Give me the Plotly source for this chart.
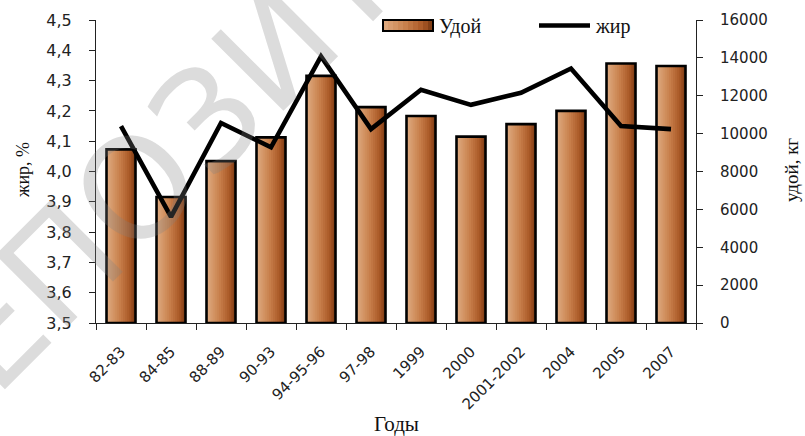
import plotly.graph_objects as go

# Годы наблюдений
years = ["82-83", "84-85", "88-89", "90-93", "94-95-96", "97-98",
         "1999", "2000", "2001-2002", "2004", "2005", "2007"]
# Удой, кг
milk_yield = [9170, 6650, 8550, 9800, 13050, 11400,
              10930, 9840, 10500, 11200, 13700, 13570]
# Жирность молока, %
fat = [4.15, 3.85, 4.16, 4.08, 4.38, 4.14,
       4.27, 4.22, 4.26, 4.34, 4.15, 4.14]

W, H = 805, 436
L, R, T, B = 96, 109, 20, 113

BAR_W = 0.58
N_SLICES = 14
# gradient stops for the bar fill, left edge -> right edge
STOPS = [(0.0, (224, 172, 130)), (0.45, (200, 128, 76)),
         (0.8, (170, 88, 38)), (1.0, (118, 56, 18))]


def grad_color(t):
    for (t0, c0), (t1, c1) in zip(STOPS[:-1], STOPS[1:]):
        if t <= t1:
            f = (t - t0) / (t1 - t0)
            return "rgb(%d,%d,%d)" % tuple(round(a + (b - a) * f) for a, b in zip(c0, c1))
    return "rgb(%d,%d,%d)" % STOPS[-1][1]


fig = go.Figure()

# gradient bars: each slice spans from its left edge to the bar's right edge,
# later slices are drawn on top so no seams appear
step = BAR_W / N_SLICES
for i in range(N_SLICES):
    fig.add_trace(go.Bar(
        x=years, y=milk_yield, yaxis="y",
        offset=-BAR_W / 2 + i * step, width=BAR_W - i * step,
        marker=dict(color=grad_color((i + 0.5) / N_SLICES), line=dict(width=0)),
        showlegend=False, hoverinfo="skip",
    ))

# bar outlines
fig.add_trace(go.Bar(
    x=years, y=milk_yield, yaxis="y", name="Удой",
    offset=-BAR_W / 2, width=BAR_W,
    marker=dict(color="rgba(0,0,0,0)", line=dict(color="black", width=2.6)),
    showlegend=False,
))

# fat content line on the left axis
fig.add_trace(go.Scatter(
    x=years, y=fat, yaxis="y2", name="жир", mode="lines",
    line=dict(color="black", width=4.6),
    showlegend=False,
))

tick_font = dict(family="DejaVu Sans", size=15, color="#222")
serif = "Liberation Serif"

fig.update_layout(
    width=W, height=H,
    margin=dict(l=L, r=R, t=T, b=B),
    paper_bgcolor="white", plot_bgcolor="white",
    barmode="overlay",
    separators=", ",
    showlegend=False,
    xaxis=dict(
        type="category", showgrid=False, showline=True, linecolor="#222", linewidth=1,
        ticks="outside", ticklen=6, tickcolor="#222", tickson="boundaries",
        tickangle=-45, tickfont=tick_font, ticklabelstandoff=13,
        range=[-0.5, len(years) - 0.5],
    ),
    yaxis=dict(
        side="right", range=[0, 16000], dtick=2000, tickformat="d",
        showgrid=False, zeroline=False, showline=True, linecolor="#222", linewidth=1,
        ticks="outside", ticklen=6, tickcolor="#222",
        tickfont=tick_font, ticklabelstandoff=14,
    ),
    yaxis2=dict(
        side="left", overlaying="y", range=[3.5, 4.5], dtick=0.1, tickformat=".1f",
        showgrid=False, zeroline=False, showline=True, linecolor="#222", linewidth=1,
        ticks="outside", ticklen=6, tickcolor="#222",
        tickfont=dict(family="DejaVu Sans", size=16, color="#222"), ticklabelstandoff=14,
    ),
)


# helpers converting pixel positions to paper coordinates
def px(xp):
    return (xp - L) / (W - L - R)


def py(yp):
    return (H - B - yp) / (H - T - B)


# axis titles
fig.add_annotation(text="Годы", xref="paper", yref="paper", x=px(396), y=py(424),
                   xanchor="center", yanchor="middle", showarrow=False,
                   font=dict(family=serif, size=21, color="#111"))
fig.add_annotation(text="жир, %", xref="paper", yref="paper", x=px(23), y=py(170),
                   xanchor="center", yanchor="middle", textangle=-90, showarrow=False,
                   font=dict(family=serif, size=18, color="#111"))
fig.add_annotation(text="удой, кг", xref="paper", yref="paper", x=px(791), y=py(170),
                   xanchor="center", yanchor="middle", textangle=-90, showarrow=False,
                   font=dict(family=serif, size=19, color="#111"))

# legend
lx0, lx1, ly0, ly1 = 383, 433, 20, 31
n_leg = 10
for i in range(n_leg):
    a = lx0 + (lx1 - lx0) * i / n_leg
    b = lx0 + (lx1 - lx0) * (i + 1) / n_leg
    fig.add_shape(type="rect", xref="paper", yref="paper",
                  x0=px(a), x1=px(b), y0=py(ly1), y1=py(ly0),
                  fillcolor=grad_color((i + 0.5) / n_leg), line=dict(width=0))
fig.add_shape(type="rect", xref="paper", yref="paper",
              x0=px(lx0), x1=px(lx1), y0=py(ly1), y1=py(ly0),
              line=dict(color="black", width=2))
fig.add_shape(type="line", xref="paper", yref="paper",
              x0=px(539), x1=px(590), y0=py(25.5), y1=py(25.5),
              line=dict(color="black", width=4.6))
fig.add_annotation(text="Удой", xref="paper", yref="paper", x=px(437), y=py(26),
                   xanchor="left", yanchor="middle", showarrow=False,
                   font=dict(family=serif, size=20, color="#111"))
fig.add_annotation(text="жир", xref="paper", yref="paper", x=px(593), y=py(27),
                   xanchor="left", yanchor="middle", showarrow=False,
                   font=dict(family=serif, size=20, color="#111"))

# repository watermark
fig.add_annotation(text="РЕПОЗИТОРИЙ", xref="paper", yref="paper", x=px(280), y=py(45),
                   xanchor="center", yanchor="middle", textangle=-45, showarrow=False,
                   font=dict(family="DejaVu Sans", size=140, color="rgba(130,130,130,0.28)"))

fig.write_html("out.html")
